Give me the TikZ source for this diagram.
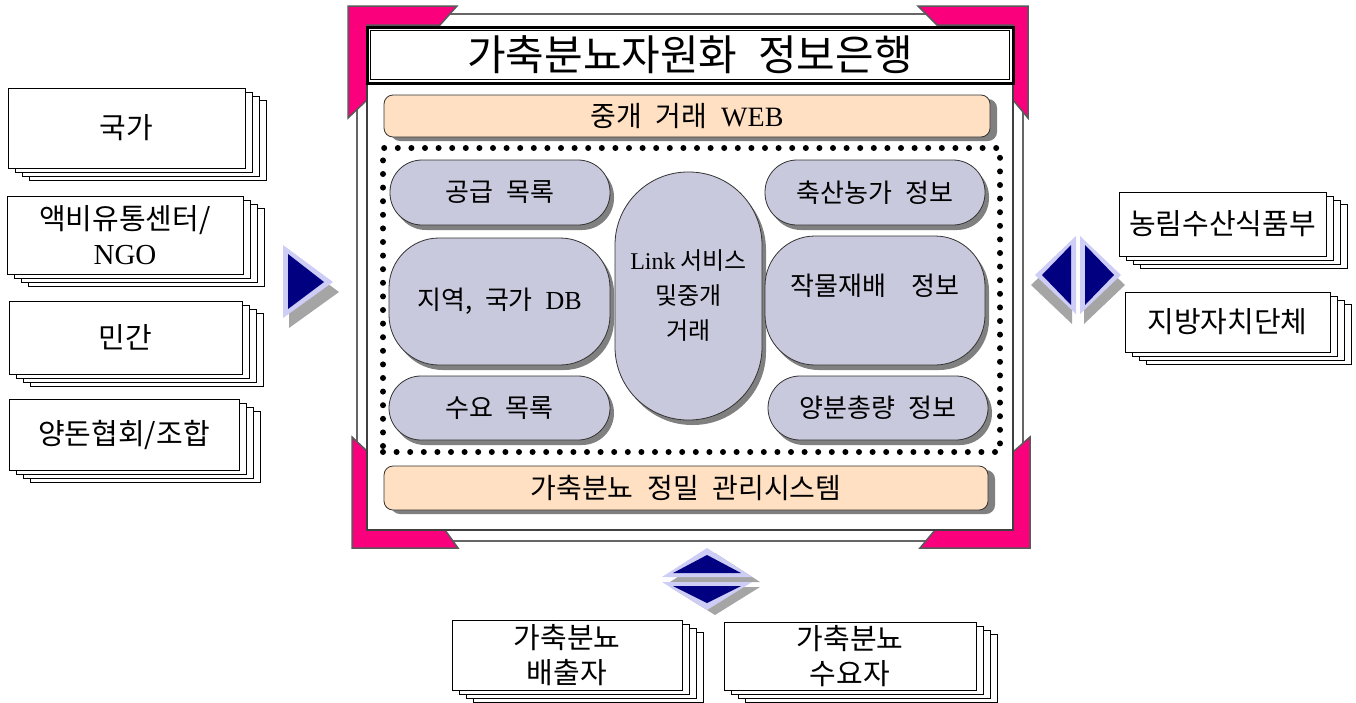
\documentclass[tikz,border=0pt]{standalone}
\usepackage{fontspec}
\setmainfont{Noto Sans CJK KR}[WordSpace=2.2]
\newfontfamily\lat{Liberation Serif}
\usetikzlibrary{shadows}
\definecolor{pinkc}{RGB}{250,0,125}
\definecolor{lav}{RGB}{200,201,220}
\definecolor{peach}{RGB}{255,224,194}
\definecolor{navyc}{RGB}{0,0,128}
\definecolor{arrowrim}{RGB}{205,205,245}
\definecolor{shadowgray}{RGB}{128,128,128}
\definecolor{ashadow}{RGB}{165,165,165}
\newcommand\docstack[6]{%
  \foreach \k in {3,2,1}{%
    \draw[stackline] ({#2+7*\k},{#3+4*\k}) rectangle ({#4+7*\k},{#5+4*\k});}
  \node[stackbox, minimum width=#4-#2, minimum height=#5-#3] (#1) at ({(#2+#4)/2},{(#3+#5)/2}) {#6};
}
\begin{document}
\begin{tikzpicture}[x=1pt,y=-1pt,
  stackline/.style={draw=black,fill=white,line width=1pt},
  stackbox/.style={draw=black,fill=white,line width=1pt,align=center,inner sep=0pt,font=\fontsize{29}{35}\selectfont},
  pill/.style={draw=black!80,fill=lav,line width=0.8pt,align=center,inner sep=0pt,font=\fontsize{26}{32}\selectfont,drop shadow={shadow xshift=4pt,shadow yshift=-5pt,fill=shadowgray,opacity=1}},
  bar/.style={draw=black!80,fill=peach,rounded corners=9pt,line width=0.8pt,inner sep=0pt,font=\fontsize{28}{30}\selectfont,drop shadow={shadow xshift=7pt,shadow yshift=-4pt,fill=shadowgray,opacity=1}},
  corner/.style={fill=pinkc,draw=black!65,line width=1.5pt,line join=miter},
  dotbox/.style={draw=black,line width=6pt,dash pattern=on 0pt off 13.6pt,line cap=round,inner sep=0pt},
]
\useasboundingbox (0,0) rectangle (1356,702);

% frame band
\draw[fill=white,draw=black!60,line width=1.5pt] (357,14) rectangle (1023,541);
% pink corners
\draw[corner] (348,6) -- (457,6) -- (440,25) -- (367,25) -- (367,100) -- (348,118) -- cycle;
\draw[corner] (918,6) -- (1028,6) -- (1028,118) -- (1013,100) -- (1013,25) -- (937,25) -- cycle;
\draw[corner] (352,437) -- (368,452) -- (368,530) -- (445,530) -- (458,548) -- (352,548) -- cycle;
\draw[corner] (1030,437) -- (1030,548) -- (920,548) -- (935,530) -- (1013,530) -- (1013,452) -- cycle;
% inner panel
\node[draw=black!75,line width=2.5pt,fill=white,inner sep=0pt,minimum width=646,minimum height=503] (panel) at (690,278.5) {};
% title
\node[draw=black,fill=white,line width=3pt,inner sep=0pt,minimum width=646,minimum height=56,font=\fontsize{42}{44}\selectfont] (title) at (690,55) {가축분뇨자원화 정보은행};
\draw[line width=1.5pt] ([shift={(5,5)}]title.north west) rectangle ([shift={(-5,-5)}]title.south east);

% bars
\node[bar,minimum width=606,minimum height=42] (web) at (687,116) {중개 거래 {\lat WEB}};
\node[bar,minimum width=604,minimum height=44] (mgmt) at (686,488) {가축분뇨 정밀 관리시스템};

% dotted zone
\node[dotbox,minimum width=617,minimum height=304] (zone) at (691.5,300) {};

% pills
\node[pill,rounded corners=32pt,minimum width=220,minimum height=65] (supply) at (500,192.5) {공급 목록};
\node[pill,rounded corners=50pt,minimum width=221,minimum height=127] (region) at (499.5,301.5) {지역, 국가 {\lat DB}};
\node[pill,rounded corners=32pt,minimum width=221,minimum height=64] (demand) at (499.5,408) {수요 목록};
\node[pill,rounded corners=73pt,minimum width=147,minimum height=248,font=\fontsize{24}{35}\selectfont] (link) at (688.5,296) {{\lat Link}\hspace{0.2em}서비스\\및중개\\거래};
\node[pill,rounded corners=32pt,minimum width=220,minimum height=65] (farm) at (875,192.5) {축산농가 정보};
\node[pill,rounded corners=50pt,minimum width=220,minimum height=129,label={[yshift=15pt,font=\fontsize{26}{32}\selectfont]center:작물재배~~정보}] (crop) at (875,300.5) {};
\node[pill,rounded corners=32pt,minimum width=220,minimum height=64] (nutrient) at (878,408) {양분총량 정보};

% left stacks
\docstack{nation}{8}{88}{245}{168}{국가}
\docstack{ngo}{7}{196}{243}{274}{액비유통센터/\\{\lat NGO}}
\docstack{private}{9}{301}{242}{374}{민간}
\docstack{assoc}{9}{399}{239}{470}{양돈협회/조합}
% right stacks
\docstack{ministry}{1119}{192}{1326}{256}{농림수산식품부}
\docstack{local}{1125}{292}{1330}{352}{지방자치단체}
% bottom stacks
\docstack{emitter}{452}{620}{682}{690}{가축분뇨\\배출자}
\docstack{consumer}{724}{622}{976}{690}{가축분뇨\\수요자}

% left arrow
\fill[ashadow] (289,255) -- (289,328) -- (339,292) -- cycle;
\fill[arrowrim] (283,245) -- (283,318) -- (333,282) -- cycle;
\fill[navyc] (288,254) -- (288,309) -- (324,282) -- cycle;
% right double arrow
\fill[ashadow] (1031,285) -- (1072,246) -- (1072,324) -- cycle;
\fill[ashadow] (1084,246) -- (1084,324) -- (1125,285) -- cycle;
\fill[arrowrim] (1035,275) -- (1076,236) -- (1076,314) -- cycle;
\fill[arrowrim] (1080,236) -- (1080,314) -- (1121,275) -- cycle;
\fill[navyc] (1042,275) -- (1071,245) -- (1071,305) -- cycle;
\fill[navyc] (1085,245) -- (1085,305) -- (1114,275) -- cycle;
% bottom double arrow
\fill[ashadow] (715,553) -- (670,582) -- (760,582) -- cycle;
\fill[ashadow] (670,587) -- (760,587) -- (715,615) -- cycle;
\fill[arrowrim] (707,548) -- (662,577) -- (752,577) -- cycle;
\fill[arrowrim] (662,582) -- (752,582) -- (707,610) -- cycle;
\fill[navyc] (707,555) -- (673,573) -- (741,573) -- cycle;
\fill[navyc] (673,586) -- (741,586) -- (707,603) -- cycle;
\end{tikzpicture}
\end{document}
